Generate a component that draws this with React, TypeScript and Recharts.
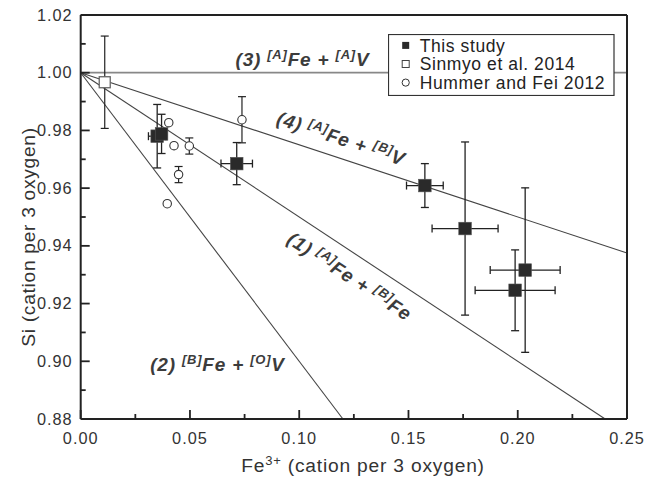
import React from 'react';
import {
  ComposedChart,
  Scatter,
  XAxis,
  YAxis,
  ErrorBar,
  ReferenceLine,
  ReferenceDot,
  Legend,
} from 'recharts';

const FONT = '"Liberation Sans", Arial, Helvetica, sans-serif';

// ---- tick values ----
const xTicks = [0, 0.025, 0.05, 0.075, 0.1, 0.125, 0.15, 0.175, 0.2, 0.225, 0.25];
const yTicks = [0.88, 0.89, 0.9, 0.91, 0.92, 0.93, 0.94, 0.95, 0.96, 0.97, 0.98, 0.99, 1.0, 1.01, 1.02];

// ---- series ----
const thisStudy = [
  { x: 0.035, y: 0.978, xErr: 0.004, yErr: 0.011 },
  { x: 0.037, y: 0.9788, xErr: 0.002, yErr: 0.0068 },
  { x: 0.0714, y: 0.9685, xErr: 0.0072, yErr: 0.0073 },
  { x: 0.1575, y: 0.9609, xErr: 0.0084, yErr: 0.0076 },
  { x: 0.1759, y: 0.946, xErr: 0.0151, yErr: 0.03 },
  { x: 0.2034, y: 0.9316, xErr: 0.016, yErr: 0.0285 },
  { x: 0.1988, y: 0.9246, xErr: 0.0183, yErr: 0.014 },
];

const sinmyo2014 = [{ x: 0.011, y: 0.9967, yErr: 0.016 }];

const hummerFei2012 = [
  { x: 0.0403, y: 0.9827, yErr: 0 },
  { x: 0.0427, y: 0.9747, yErr: 0 },
  { x: 0.0497, y: 0.9746, yErr: 0.0028 },
  { x: 0.0448, y: 0.9647, yErr: 0.0028 },
  { x: 0.0396, y: 0.9546, yErr: 0 },
  { x: 0.0738, y: 0.9837, yErr: 0.008 },
];

// ---- substitution model lines (end points) ----
const modelLines = [
  { id: '1', x1: 0, y1: 1.0, x2: 0.24, y2: 0.88 },
  { id: '2', x1: 0, y1: 1.0, x2: 0.12, y2: 0.88 },
  { id: '3', x1: 0, y1: 1.0, x2: 0.25, y2: 1.0 },
  { id: '4', x1: 0, y1: 1.0, x2: 0.25, y2: 0.9375 },
];

// ---- model labels ----
const modelLabels = [
  { id: '3', num: '(3) ', s1: '[A]', mid: 'Fe + ', s2: '[A]', end: 'V' },
  { id: '4', num: '(4) ', s1: '[A]', mid: 'Fe + ', s2: '[B]', end: 'V' },
  { id: '1', num: '(1) ', s1: '[A]', mid: 'Fe + ', s2: '[B]', end: 'Fe' },
  { id: '2', num: '(2) ', s1: '[B]', mid: 'Fe + ', s2: '[O]', end: 'V' },
];
// where each label sits (data coordinates of its baseline centre) and its rotation
const labelPlacement: Record<string, { x: number; y: number; angle: number }> = {
  '3': { x: 0.1015, y: 1.0022, angle: 0 },
  '4': { x: 0.1182, y: 0.975, angle: 18.3 },
  '1': { x: 0.1214, y: 0.9275, angle: 33.4 },
  '2': { x: 0.0626, y: 0.8966, angle: 0 },
};

const legendItems = [
  { name: 'This study', marker: 'filled' },
  { name: 'Sinmyo et al. 2014', marker: 'open' },
  { name: 'Hummer and Fei 2012', marker: 'circle' },
];

const AXIS = '#222';
const TXT = '#333';

const isMajorX = (v: number) => Math.round(v * 1000) % 50 === 0;
const isMajorY = (v: number) => Math.round(v * 100) % 2 === 0;

const BottomTick = (p: any) => {
  const v = Number(p.payload.value);
  const major = isMajorX(v);
  return (
    <g>
      <line x1={p.x} x2={p.x} y1={p.y} y2={p.y - (major ? 9 : 5)} stroke={AXIS} strokeWidth={1.8} />
      {major && (
        <text x={p.x} y={p.y + 25} textAnchor="middle" fontSize={16.3} fontFamily={FONT} fill={TXT} letterSpacing={1}>
          {v.toFixed(2)}
        </text>
      )}
    </g>
  );
};
const TopTick = (p: any) => {
  const major = isMajorX(Number(p.payload.value));
  return <line x1={p.x} x2={p.x} y1={p.y} y2={p.y + (major ? 9 : 5)} stroke={AXIS} strokeWidth={1.8} />;
};
const LeftTick = (p: any) => {
  const v = Number(p.payload.value);
  const major = isMajorY(v);
  return (
    <g>
      <line x1={p.x} x2={p.x + (major ? 9 : 5)} y1={p.y} y2={p.y} stroke={AXIS} strokeWidth={1.8} />
      {major && (
        <text x={p.x - 8} y={p.y + 5.6} textAnchor="end" fontSize={16.3} fontFamily={FONT} fill={TXT} letterSpacing={1}>
          {v.toFixed(2)}
        </text>
      )}
    </g>
  );
};
const RightTick = (p: any) => {
  const major = isMajorY(Number(p.payload.value));
  return <line x1={p.x} x2={p.x - (major ? 9 : 5)} y1={p.y} y2={p.y} stroke={AXIS} strokeWidth={1.8} />;
};

const FilledSquare = (p: any) => (
  <rect x={p.cx - 6.3} y={p.cy - 6.3} width={12.6} height={12.6} fill="#2a2a2a" stroke="#555" strokeWidth={0.6} />
);
const OpenSquare = (p: any) => (
  <rect x={p.cx - 5.5} y={p.cy - 5.5} width={11} height={11} fill="#fff" stroke="#666" strokeWidth={1.3} />
);
const OpenCircle = (p: any) => <circle cx={p.cx} cy={p.cy} r={4.2} fill="#fff" stroke="#333" strokeWidth={1.1} />;

const ModelLabel = ({ cx, cy, lab, angle }: any) => (
  <text
    x={cx}
    y={cy}
    transform={angle ? `rotate(${angle} ${cx} ${cy})` : undefined}
    textAnchor="middle"
    fontFamily={FONT}
    fontWeight="bold"
    fontStyle="italic"
    fontSize={19}
    letterSpacing={0.8}
    fill="#3c3c3c"
  >
    <tspan>{lab.num}</tspan>
    <tspan dy={-7} fontSize={13}>{lab.s1}</tspan>
    <tspan dy={7}>{lab.mid}</tspan>
    <tspan dy={-7} fontSize={13}>{lab.s2}</tspan>
    <tspan dy={7}>{lab.end}</tspan>
  </text>
);

const LegendBox = () => (
  <svg width={227} height={62} style={{ display: 'block' }}>
    <rect x={0.5} y={0.5} width={225.5} height={61} fill="#fff" stroke="#333" strokeWidth={1.2} />
    {legendItems.map((it, i) => {
      const cy = 11.4 + i * 18.6;
      return (
        <g key={it.name}>
          {it.marker === 'filled' && <rect x={14.2} y={cy - 3.5} width={7} height={7} fill="#2a2a2a" />}
          {it.marker === 'open' && <rect x={14.2} y={cy - 3.5} width={7} height={7} fill="#fff" stroke="#444" strokeWidth={1} />}
          {it.marker === 'circle' && <circle cx={17.7} cy={cy} r={3.6} fill="#fff" stroke="#333" strokeWidth={1} />}
          <text x={31.7} y={cy + 6.4} fontSize={17.5} fontFamily={FONT} fill="#222" letterSpacing={0.6}>
            {it.name}
          </text>
        </g>
      );
    })}
  </svg>
);

export default function App() {
  return (
    <div style={{ position: 'absolute', left: 0, top: 0, width: 649, height: 480, background: '#fff' }}>
      <ComposedChart width={649} height={480} margin={{ top: 14, right: 21, bottom: 60, left: 79.7 }}>
        <XAxis
          xAxisId={0}
          type="number"
          dataKey="x"
          domain={[0, 0.25]}
          ticks={xTicks}
          interval={0}
          height={1}
          tickSize={0}
          tickMargin={0}
          tickLine={false}
          axisLine={{ stroke: AXIS, strokeWidth: 2 }}
          tick={<BottomTick />}
          label={{
            content: () => (
              <text x={363} y={472} textAnchor="middle" fontSize={19.2} fontFamily={FONT} fill={TXT} letterSpacing={0.8}>
                <tspan>Fe</tspan>
                <tspan dy={-7} fontSize={13}>3+</tspan>
                <tspan dy={7}> (cation per 3 oxygen)</tspan>
              </text>
            ),
          }}
        />
        <XAxis
          xAxisId="top"
          orientation="top"
          type="number"
          domain={[0, 0.25]}
          ticks={xTicks}
          interval={0}
          height={1}
          tickSize={0}
          tickMargin={0}
          tickLine={false}
          axisLine={{ stroke: AXIS, strokeWidth: 2 }}
          tick={<TopTick />}
        />
        <YAxis
          yAxisId={0}
          type="number"
          dataKey="y"
          domain={[0.88, 1.02]}
          ticks={yTicks}
          interval={0}
          width={1}
          tickSize={0}
          tickMargin={0}
          tickLine={false}
          axisLine={{ stroke: AXIS, strokeWidth: 2 }}
          tick={<LeftTick />}
          label={{
            content: () => {
              const x = 35;
              const cy = 237;
              return (
                <text
                  x={x}
                  y={cy}
                  transform={`rotate(-90 ${x} ${cy})`}
                  textAnchor="middle"
                  fontSize={19.2}
                  fontFamily={FONT}
                  fill={TXT}
                  letterSpacing={0.7}
                >
                  Si (cation per 3 oxygen)
                </text>
              );
            },
          }}
        />
        <YAxis
          yAxisId="right"
          orientation="right"
          type="number"
          domain={[0.88, 1.02]}
          ticks={yTicks}
          interval={0}
          width={1}
          tickSize={0}
          tickMargin={0}
          tickLine={false}
          axisLine={{ stroke: AXIS, strokeWidth: 2 }}
          tick={<RightTick />}
        />

        {modelLines.map((l) => (
          <ReferenceLine
            key={l.id}
            segment={[
              { x: l.x1, y: l.y1 },
              { x: l.x2, y: l.y2 },
            ]}
            stroke={l.id === '3' ? '#888' : '#444'}
            strokeWidth={l.id === '3' ? 1.8 : 1.1}
            ifOverflow="visible"
          />
        ))}

        {modelLabels.map((lab) => {
          const pl = labelPlacement[lab.id];
          return (
            <ReferenceDot
              key={'lab' + lab.id}
              x={pl.x}
              y={pl.y}
              r={0}
              ifOverflow="visible"
              shape={(p: any) => <ModelLabel cx={p.cx} cy={p.cy} lab={lab} angle={pl.angle} />}
            />
          );
        })}

        <Scatter name="Hummer and Fei 2012" data={hummerFei2012} shape={<OpenCircle />} isAnimationActive={false}>
          <ErrorBar dataKey="yErr" direction="y" width={4} stroke="#222" strokeWidth={1.2} />
        </Scatter>
        <Scatter name="Sinmyo et al. 2014" data={sinmyo2014} shape={<OpenSquare />} isAnimationActive={false}>
          <ErrorBar dataKey="yErr" direction="y" width={4} stroke="#222" strokeWidth={1.2} />
        </Scatter>
        <Scatter name="This study" data={thisStudy} shape={<FilledSquare />} isAnimationActive={false}>
          <ErrorBar dataKey="yErr" direction="y" width={4} stroke="#222" strokeWidth={1.3} />
          <ErrorBar dataKey="xErr" direction="x" width={4} stroke="#222" strokeWidth={1.3} />
        </Scatter>

        <Legend
          layout="vertical"
          align="center"
          verticalAlign="middle"
          wrapperStyle={{ position: 'absolute', left: 388, top: 34, width: 227, height: 62, margin: 0, padding: 0 }}
          content={() => <LegendBox />}
        />
      </ComposedChart>
    </div>
  );
}
